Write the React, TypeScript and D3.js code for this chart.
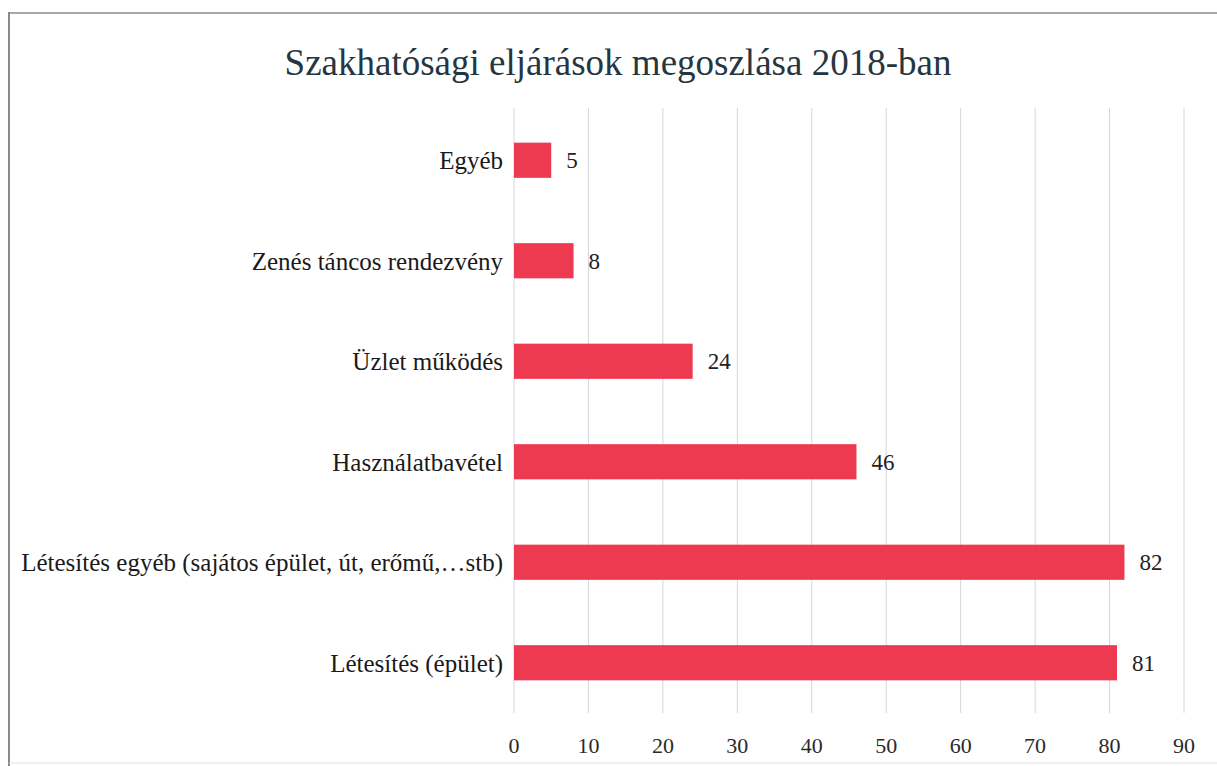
import React from "react";
import * as d3 from "d3";

const categories = [
  "Egyéb",
  "Zenés táncos rendezvény",
  "Üzlet működés",
  "Használatbavétel",
  "Létesítés egyéb (sajátos épület, út, erőmű,…stb)",
  "Létesítés (épület)",
];
const values = [5, 8, 24, 46, 82, 81];
const ticks = [0, 10, 20, 30, 40, 50, 60, 70, 80, 90];
const title = "Szakhatósági eljárások megoszlása 2018-ban";

const W = 1217;
const H = 766;
const FONT = "Liberation Serif";

export default function App() {
  const x = d3.scaleLinear().domain([0, 90]).range([514, 1184]);
  const y = d3
    .scaleBand<string>()
    .domain(categories)
    .range([110, 713])
    .paddingInner(0.65)
    .paddingOuter(0.325);
  const gridTop = 108;
  const gridBottom = 713;

  return (
    <svg
      width={W}
      height={H}
      style={{ position: "absolute", left: 0, top: 0, background: "#fff" }}
    >
      {/* page border */}
      <line x1={9} y1={13} x2={W} y2={13} stroke="#a8a8a8" strokeWidth={2} />
      <line x1={9} y1={12} x2={9} y2={H} stroke="#8a8a8a" strokeWidth={2} />
      <line x1={9} y1={763} x2={W} y2={763} stroke="#e2e2e2" strokeWidth={1} />

      <text
        x={618}
        y={75}
        textAnchor="middle"
        fontFamily={FONT}
        fontSize={37}
        fill="#263540"
      >
        {title}
      </text>

      {ticks.map((t) => (
        <g key={t}>
          <line
            x1={x(t)}
            x2={x(t)}
            y1={gridTop}
            y2={gridBottom}
            stroke="#d3d6dc"
            strokeWidth={1}
          />
          <text
            x={x(t)}
            y={753}
            textAnchor="middle"
            fontFamily={FONT}
            fontSize={22}
            fill="#2a2a2a"
          >
            {t}
          </text>
        </g>
      ))}

      {categories.map((c, i) => {
        const by = y(c)!;
        const bh = y.bandwidth();
        return (
          <g key={c}>
            <rect
              x={x(0)}
              y={by}
              width={x(values[i]) - x(0)}
              height={bh}
              fill="#ee3a50"
            />
            <text
              x={503}
              y={by + bh / 2}
              dy="0.35em"
              textAnchor="end"
              fontFamily={FONT}
              fontSize={25}
              fill="#1a1a1a"
            >
              {c}
            </text>
            <text
              x={x(values[i]) + 15}
              y={by + bh / 2}
              dy="0.35em"
              fontFamily={FONT}
              fontSize={23}
              fill="#222"
            >
              {values[i]}
            </text>
          </g>
        );
      })}
    </svg>
  );
}
